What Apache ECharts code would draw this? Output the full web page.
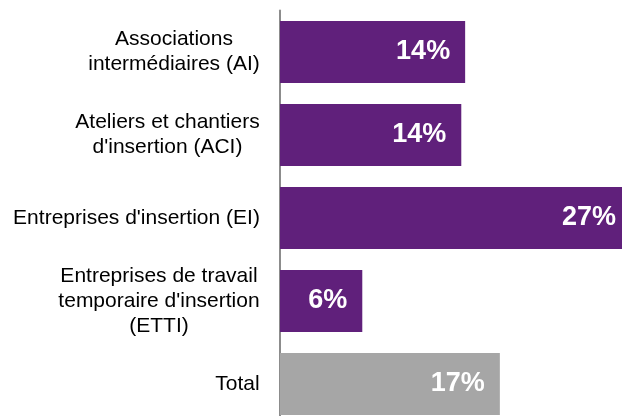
<!DOCTYPE html>
<html>
<head>
<meta charset="utf-8">
<script src="https://cdn.jsdelivr.net/npm/echarts@6/dist/echarts.min.js"></script>
<style>
html,body{margin:0;padding:0;background:#fff;}
#chart{width:622px;height:416px;}
</style>
</head>
<body>
<div id="chart"></div>
<script>
var categories = [
  "Associations\nintermédiaires (AI)",
  "Ateliers et chantiers\nd'insertion (ACI)",
  "Entreprises d'insertion (EI)",
  "Entreprises de travail\ntemporaire d'insertion\n(ETTI)",
  "Total"
];
var values = [14.4, 14.1, 27.3, 6.4, 17.1];
var barColors = ["#60207B", "#60207B", "#60207B", "#60207B", "#A6A6A6"];

var FONT = 'Liberation Sans, Arial, sans-serif';
var FS = 21;
var ctx = document.createElement('canvas').getContext('2d');
ctx.font = FS + 'px ' + FONT;
var rich = {};
categories.forEach(function (c, i) {
  var w = 0;
  c.split('\n').forEach(function (l) { w = Math.max(w, ctx.measureText(l).width); });
  rich['w' + i] = {width: Math.ceil(w), align: 'center', fontSize: FS, fontFamily: FONT, color: '#000', lineHeight: 25};
});

var chart = echarts.init(document.getElementById('chart'), null, {renderer: 'canvas'});
chart.setOption({
  animation: false,
  grid: {left: 280, right: 0, top: 10.5, bottom: -9.5, outerBoundsMode: 'none'},
  xAxis: {
    type: 'value', min: 0, max: 26.6, show: false
  },
  yAxis: {
    type: 'category',
    inverse: true,
    data: categories,
    axisLine: {show: true, lineStyle: {color: '#8C8C8C', width: 2}},
    axisTick: {show: false},
    axisLabel: {
      margin: 20,
      color: '#000',
      fontFamily: FONT,
      fontSize: FS,
      lineHeight: 25,
      align: 'right',
      rich: rich,
      formatter: function (v, idx) {
        return v.split('\n').map(function (l) { return '{w' + idx + '|' + l + '}'; }).join('\n');
      }
    }
  },
  series: [{
    type: 'bar',
    barWidth: 62,
    clip: false,
    data: values.map(function (v, i) {
      return {value: v, itemStyle: {color: barColors[i]}};
    }),
    label: {
      show: true,
      position: 'insideRight',
      distance: 15,
      color: '#fff',
      fontWeight: 'bold',
      fontFamily: FONT,
      fontSize: 27,
      formatter: function (p) { return Math.round(p.value) + '%'; }
    }
  }]
});
</script>
</body>
</html>
